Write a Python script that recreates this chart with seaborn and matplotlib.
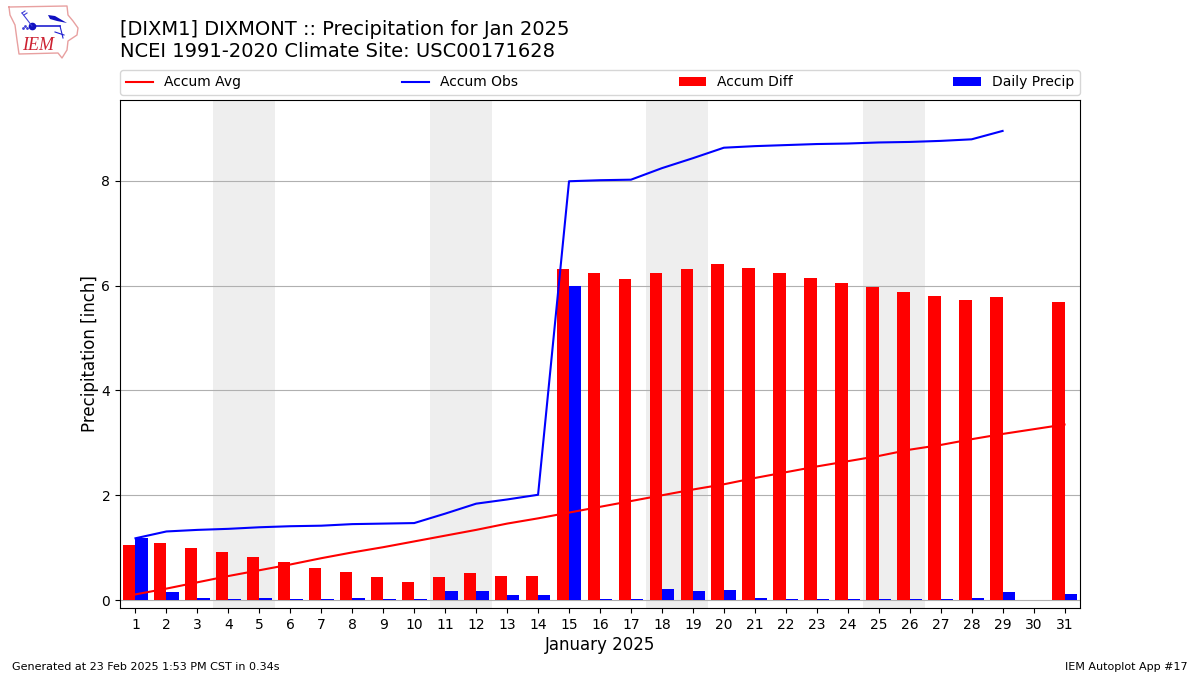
import numpy as np
import pandas as pd
import seaborn as sns
import matplotlib
matplotlib.use('Agg')
import matplotlib.pyplot as plt

days = list(range(1, 32))
weekends = [(3.5, 5.5), (10.5, 12.5), (17.5, 19.5), (24.5, 26.5)]

accum_avg = [0.11, 0.22, 0.34, 0.46, 0.57, 0.68, 0.80, 0.91, 1.01, 1.12, 1.23,
             1.34, 1.46, 1.56, 1.67, 1.78, 1.89, 2.00, 2.11, 2.21, 2.33, 2.44,
             2.55, 2.65, 2.75, 2.87, 2.96, 3.07, 3.17, 3.26, 3.35]
accum_obs = [1.18, 1.31, 1.34, 1.36, 1.39, 1.41, 1.42, 1.45, 1.46, 1.47, 1.65,
             1.84, 1.92, 2.01, 7.99, 8.01, 8.02, 8.24, 8.43, 8.63, 8.66, 8.68,
             8.70, 8.71, 8.73, 8.74, 8.76, 8.79, 8.95, np.nan, np.nan]
accum_diff = [1.05, 1.09, 1.00, 0.91, 0.82, 0.72, 0.62, 0.54, 0.45, 0.35, 0.44,
              0.51, 0.46, 0.46, 6.32, 6.24, 6.12, 6.24, 6.32, 6.41, 6.33, 6.24,
              6.15, 6.05, 5.97, 5.88, 5.80, 5.72, 5.78, np.nan, 5.68]
daily_precip = [1.18, 0.15, 0.04, 0.02, 0.04, 0.02, 0.02, 0.04, 0.02, 0.02, 0.18,
                0.18, 0.09, 0.09, 5.99, 0.02, 0.02, 0.22, 0.18, 0.20, 0.04, 0.02,
                0.02, 0.02, 0.02, 0.02, 0.02, 0.04, 0.15, 0.0, 0.11]

# logo outline, pixel positions of the reference
logo_x = [9, 67, 68, 73, 78, 77, 68, 67, 62, 58, 19, 17, 15, 10, 9]
logo_y = [7, 6, 15, 21, 28, 35, 41, 50, 58, 53, 54, 40, 25, 15, 7]

fig = plt.figure(figsize=(12, 6.75), dpi=100)
ax = fig.add_axes([0.1, 67 / 675, 0.8, 508 / 675])

for lo, hi in weekends:
    ax.axvspan(lo, hi, color='#EEEEEE', zorder=0.5, lw=0)

bars = pd.DataFrame({
    'day': days * 2,
    'value': accum_diff + daily_precip,
    'kind': ['Accum Diff'] * 31 + ['Daily Precip'] * 31,
})
sns.barplot(data=bars, x='day', y='value', hue='kind',
            hue_order=['Accum Diff', 'Daily Precip'],
            palette=['red', 'blue'], saturation=1, width=0.8, gap=0,
            native_scale=True, errorbar=None, ax=ax, zorder=2)
sns.lineplot(x=days, y=accum_avg, color='red', label='Accum Avg',
             errorbar=None, ax=ax, zorder=3)
sns.lineplot(x=days, y=accum_obs, color='blue', label='Accum Obs',
             errorbar=None, ax=ax, zorder=3)

ax.set_xlim(0.5, 31.5)
ax.set_ylim(-0.15, 9.54)
ax.set_xticks(days)
ax.set_xticklabels([str(d) for d in days])
ax.set_yticks([0, 2, 4, 6, 8])
ax.yaxis.grid(True, color='#b0b0b0', lw=0.8)
ax.set_axisbelow(True)
ax.set_xlabel('January 2025', fontsize=12, labelpad=3)
ax.set_ylabel('Precipitation [inch]', fontsize=12, labelpad=2)

handles, labels = ax.get_legend_handles_labels()
by_label = dict(zip(labels, handles))
order = ['Accum Avg', 'Accum Obs', 'Accum Diff', 'Daily Precip']
ax.legend([by_label[k] for k in order], order, ncol=4, mode='expand',
          loc='lower left', bbox_to_anchor=(0, 1.0098, 1, 0.05),
          borderaxespad=0, fontsize=10)

fig.text(0.1, 0.909, '[DIXM1] DIXMONT :: Precipitation for Jan 2025\n'
         'NCEI 1991-2020 Climate Site: USC00171628',
         fontsize=14, va='bottom', ha='left')
fig.text(0.01, 0.0075, 'Generated at 23 Feb 2025 1:53 PM CST in 0.34s', fontsize=8)
fig.text(0.99, 0.0075, 'IEM Autoplot App #17', fontsize=8, ha='right')

# logo
logo = fig.add_axes([0, 1 - 62 / 675, 84 / 1200, 62 / 675])
logo.set_xlim(0, 84)
logo.set_ylim(62, 0)
logo.axis('off')
logo.plot(logo_x, logo_y, color='#e8a0a0', lw=1)
logo.plot([32, 60], [26, 26], color='#2020d0', lw=1.2)
logo.plot([32], [26], 'o', color='#1010c0', ms=4.5)
logo.plot([32, 22], [26, 13], color='#4040d8', lw=0.8)
logo.plot([22, 25], [13, 11], color='#4040d8', lw=0.8)
logo.plot([24, 27], [15, 13], color='#4040d8', lw=0.8)
logo.fill([48, 55, 67, 57, 50], [15, 16, 23, 21, 19], color='#1010c0', lw=0)
logo.plot([60, 63], [26, 38], color='#2020d0', lw=0.8)
logo.plot([55, 64], [32, 35], color='#2020d0', lw=0.8)
logo.plot([23, 25, 27], [28, 26, 28], '.', color='#4040d8', ms=2)
logo.text(38, 45, 'IEM', color='#cc2030', fontsize=13, style='italic',
          family='Liberation Serif', ha='center', va='center')

fig.savefig('out.png', dpi=100)
plt.close()
